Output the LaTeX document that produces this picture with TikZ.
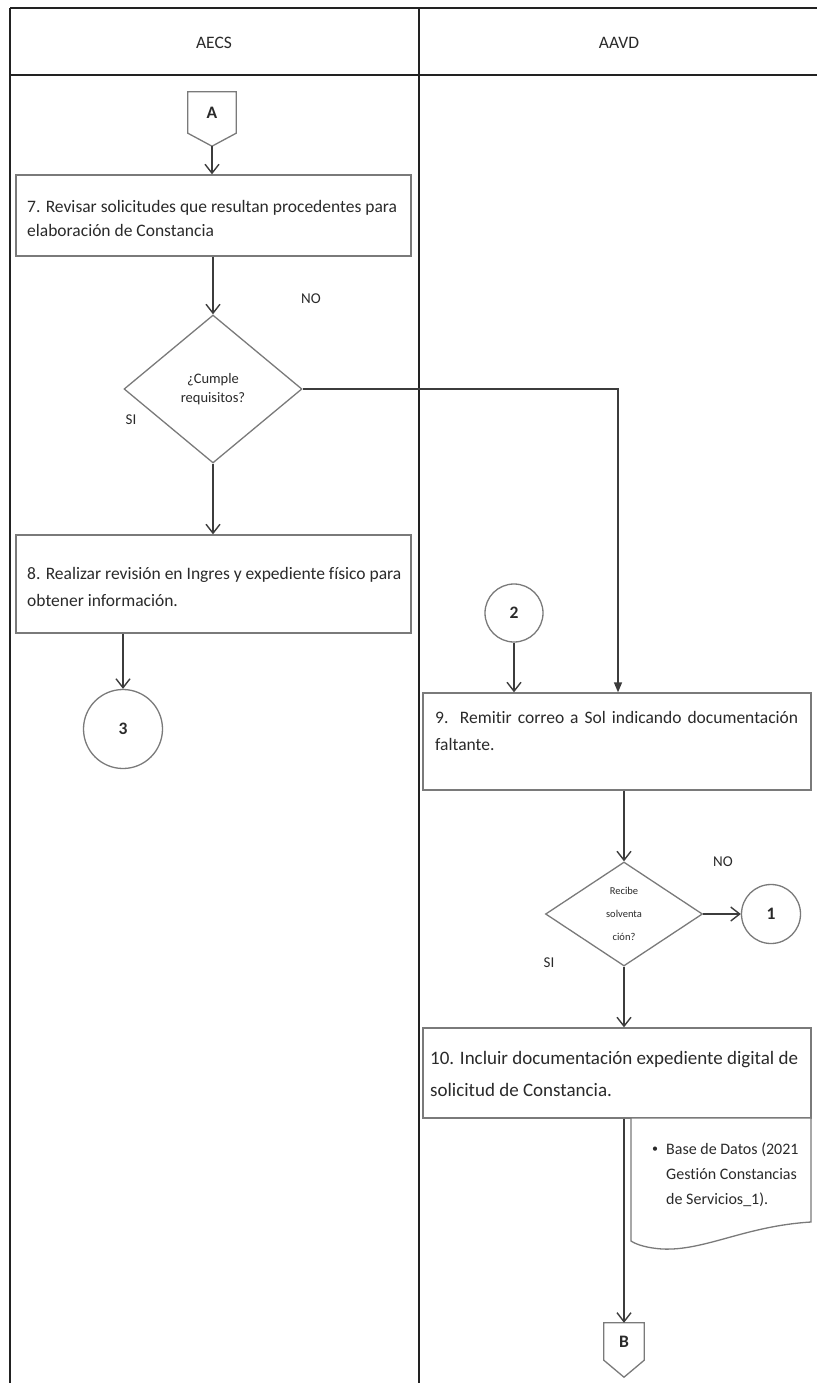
\documentclass[tikz,border=0pt]{standalone}
\usepackage{fontspec}
\setmainfont[Ligatures=NoCommon]{Carlito}
\usetikzlibrary{shapes.geometric,arrows.meta,calc}
\definecolor{ink}{HTML}{2A2A2A}
\definecolor{lanecol}{HTML}{222222}
\definecolor{boxcol}{HTML}{7A7A7A}
\definecolor{conncol}{HTML}{3C3C3C}
\begin{document}
\begin{tikzpicture}[x=1pt,y=-1pt,
  lane/.style={draw=lanecol, line width=2pt},
  procbox/.style={rectangle, draw=boxcol, line width=1.3pt, fill=white, inner sep=0pt},
  txt/.style={font=\fontsize{17.5}{25}\selectfont, text=ink, inner sep=0pt},
  lbl/.style={font=\fontsize{15}{18}\selectfont, text=ink, inner sep=0pt},
  decision/.style={diamond, draw=boxcol, line width=1.3pt, fill=white, inner sep=0pt, text=ink, align=center},
  joint/.style={circle, draw=boxcol, line width=1.3pt, fill=white, inner sep=0pt, text=ink, font=\fontsize{17.5}{20}\selectfont\bfseries},
  offpage/.style={inner sep=0pt, text=ink, font=\fontsize{17.5}{20}\selectfont\bfseries},
  shapeline/.style={draw=boxcol, line width=1.3pt, fill=white},
  conn/.style={draw=conncol, line width=1.4pt, -{Straight Barb[length=9pt,width=14pt,line width=1.4pt]}},
  connfilled/.style={draw=conncol, line width=1.4pt, -{Triangle[length=10pt,width=8pt]}},
]
\useasboundingbox (0,0) rectangle (817,1383);

% swimlane frame and headers
\draw[lane] (10,8) -- (817,8);
\draw[lane] (10,75) -- (817,75);
\draw[lane] (10,8) -- (10,1383);
\draw[lane] (419,8) -- (419,1383);
\node[txt] (hAECS) at (214,43) {AECS};
\node[txt] (hAAVD) at (619,43) {AAVD};

% off-page connector A
\node[offpage, minimum width=48pt, minimum height=41pt] (A) at (212,112.5) {};
\coordinate (Atip) at ($(A.south)+(0,13)$);
\draw[shapeline] (A.north west) -- (A.north east) -- (A.south east) -- (Atip) -- (A.south west) -- cycle;
\node[offpage] (Atxt) at (A) {A};

% step 7
\node[procbox, minimum width=395pt, minimum height=81pt] (b7) at (213.5,215.5) {};
\node[txt, anchor=west, align=left, font=\fontsize{17.5}{24}\selectfont] (t7) at (27,218.5)
  {7. Revisar solicitudes que resultan procedentes para\\elaboración de Constancia};

% decision: requirements
\node[decision, minimum width=178pt, minimum height=148pt, font=\fontsize{14.5}{19}\selectfont] (d1) at (213,389)
  {¿Cumple\\requisitos?};
\node[lbl] (no1) at (311,299) {NO};
\node[lbl] (si1) at (131,420) {SI};

% step 8
\node[procbox, minimum width=395pt, minimum height=98pt] (b8) at (213.5,584) {};
\node[txt, anchor=west, align=left, font=\fontsize{17.5}{27}\selectfont] (t8) at (27,587)
  {8. Realizar revisión en Ingres y expediente físico para\\obtener información.};

% connector 3
\node[joint, minimum size=79pt] (c3) at (123,729) {3};

% connector 2
\node[joint, minimum size=58pt] (c2) at (514,613) {2};

% step 9
\node[procbox, minimum width=388pt, minimum height=97pt] (b9) at (617,741.5) {};
\node[txt, anchor=west, align=left, font=\fontsize{17.5}{27}\selectfont] (t9) at (435,731)
  {\makebox[363pt][s]{9. Remitir correo a Sol indicando documentación}\\faltante.};

% decision: reply received
\node[decision, minimum width=157pt, minimum height=104pt, font=\fontsize{10.5}{23}\selectfont] (d2) at (624,914)
  {Recibe\\solventa\\ción?};
\node[lbl] (no2) at (723,862) {NO};
\node[lbl] (si2) at (549,963) {SI};

% connector 1
\node[joint, minimum size=59pt] (c1) at (771,914) {1};

% step 10
\node[procbox, minimum width=388pt, minimum height=90pt] (b10) at (617,1073) {};
\node[txt, anchor=west, align=left, font=\fontsize{19}{32}\selectfont] (t10) at (430,1074)
  {10. Incluir documentación expediente digital de\\solicitud de Constancia.};

% document: database record
\coordinate (docNW) at (631,1118);
\coordinate (docNE) at (811,1118);
\draw[shapeline] (docNW) -- (docNE) -- (811,1222)
  .. controls (745,1226) and (705,1251) .. (662,1249)
  .. controls (648,1248) and (637,1245) .. (631,1241) -- cycle;
\node[txt, font=\fontsize{12}{14}\selectfont] (bul) at (655,1150) {\textbullet};
\node[txt, anchor=west, align=left, font=\fontsize{16}{25}\selectfont] (tdoc) at (666,1175)
  {Base de Datos (2021\\Gestión Constancias\\de Servicios\_1).};

% off-page connector B
\node[offpage, minimum width=40pt, minimum height=37pt] (B) at (624,1341.5) {};
\coordinate (Btip) at ($(B.south)+(0,17)$);
\draw[shapeline] (B.north west) -- (B.north east) -- (B.south east) -- (Btip) -- (B.south west) -- cycle;
\node[offpage] (Btxt) at (B) {B};

% flow connectors
\draw[conn] (Atip) -- (Atip |- b7.north);
\draw[conn] (d1.north |- b7.south) -- (d1.north);
\draw[conn] (d1.south) -- (d1.south |- b8.north);
\draw[conn] (c3.north |- b8.south) -- (c3.north);
\draw[connfilled] (d1.east) -| ([xshift=1pt]b9.north);
\draw[conn] (c2.south) -- (c2.south |- b9.north);
\draw[conn] (d2.north |- b9.south) -- (d2.north);
\draw[conn] (d2.east) -- (c1.west);
\draw[conn] (d2.south) -- (d2.south |- b10.north);
\draw[conn] (B.north |- b10.south) -- (B.north);
\end{tikzpicture}
\end{document}
